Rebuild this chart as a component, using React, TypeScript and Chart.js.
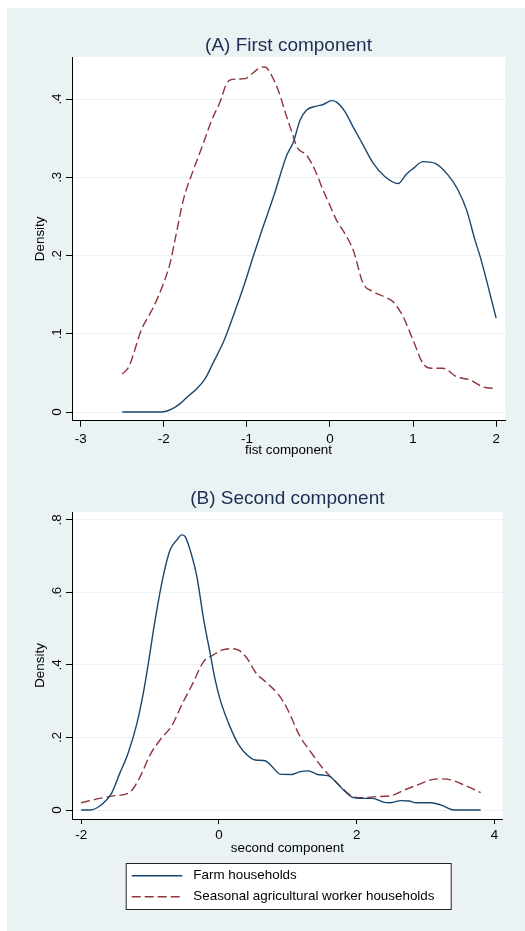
import React, { useEffect, useRef } from "react";
import { Chart, registerables } from "chart.js";

Chart.register(...registerables);

// ---------------- data ----------------
const seriesLabels = ["Farm households", "Seasonal agricultural worker households"];

// Panel A – first component
const farmA_x = [-2.5, -2.2, -2.03, -1.9, -1.8, -1.72, -1.6, -1.5, -1.4, -1.28, -1.15, -1.04, -0.92, -0.82, -0.68, -0.52, -0.44, -0.36, -0.28, -0.16, -0.08, 0.02, 0.08, 0.18, 0.28, 0.38, 0.52, 0.66, 0.82, 0.92, 1.0, 1.12, 1.26, 1.42, 1.54, 1.645, 1.745, 1.81, 1.905, 2.0];
const farmA_y = [0, 0, 0, 0.004, 0.011, 0.019, 0.03, 0.043, 0.064, 0.09, 0.127, 0.16, 0.2, 0.232, 0.275, 0.328, 0.345, 0.373, 0.386, 0.391, 0.393, 0.398, 0.396, 0.384, 0.364, 0.345, 0.318, 0.301, 0.292, 0.304, 0.311, 0.32, 0.318, 0.303, 0.284, 0.258, 0.22, 0.198, 0.16, 0.12];

const seasA_x = [-2.5, -2.42, -2.27, -2.125, -2.005, -1.925, -1.865, -1.765, -1.645, -1.525, -1.424, -1.324, -1.243, -1.183, -1.023, -0.942, -0.842, -0.782, -0.702, -0.622, -0.52, -0.44, -0.4, -0.28, -0.18, -0.08, 0.0, 0.08, 0.18, 0.28, 0.4, 0.52, 0.66, 0.76, 0.88, 1.0, 1.12, 1.22, 1.36, 1.525, 1.685, 1.845, 1.985];
const seasA_y = [0.0485, 0.058, 0.105, 0.134, 0.164, 0.19, 0.22, 0.271, 0.309, 0.343, 0.373, 0.396, 0.42, 0.425, 0.426, 0.432, 0.44, 0.441, 0.43, 0.411, 0.377, 0.352, 0.339, 0.328, 0.309, 0.283, 0.264, 0.245, 0.228, 0.207, 0.164, 0.154, 0.147, 0.141, 0.122, 0.092, 0.062, 0.056, 0.056, 0.045, 0.041, 0.032, 0.03];

// Panel B – second component
const farmB_x = [-2.0, -1.87, -1.73, -1.56, -1.44, -1.32, -1.19, -1.1, -1.02, -0.95, -0.88, -0.81, -0.71, -0.61, -0.54, -0.49, -0.39, -0.32, -0.22, -0.127, -0.054, 0.02, 0.16, 0.29, 0.41, 0.53, 0.67, 0.77, 0.89, 1.06, 1.18, 1.3, 1.43, 1.595, 1.67, 1.81, 1.94, 2.06, 2.23, 2.4, 2.49, 2.64, 2.76, 2.86, 3.08, 3.22, 3.41, 3.8];
const farmB_y = [0, 0, 0.011, 0.046, 0.101, 0.156, 0.239, 0.32, 0.41, 0.497, 0.575, 0.644, 0.717, 0.745, 0.759, 0.754, 0.699, 0.644, 0.524, 0.432, 0.359, 0.303, 0.23, 0.179, 0.152, 0.138, 0.136, 0.12, 0.099, 0.098, 0.106, 0.108, 0.098, 0.094, 0.083, 0.055, 0.035, 0.032, 0.032, 0.021, 0.02, 0.026, 0.025, 0.02, 0.02, 0.014, 0, 0];

const seasB_x = [-2.0, -1.73, -1.53, -1.32, -1.24, -1.12, -1.0, -0.855, -0.68, -0.54, -0.39, -0.22, -0.08, 0.04, 0.165, 0.285, 0.41, 0.53, 0.7, 0.87, 0.99, 1.18, 1.33, 1.47, 1.62, 1.77, 1.91, 2.06, 2.3, 2.49, 2.69, 2.88, 3.08, 3.22, 3.37, 3.56, 3.8];
const seasB_y = [0.02, 0.032, 0.039, 0.046, 0.06, 0.101, 0.152, 0.193, 0.234, 0.29, 0.345, 0.41, 0.428, 0.441, 0.445, 0.441, 0.418, 0.38, 0.35, 0.317, 0.28, 0.202, 0.161, 0.124, 0.092, 0.064, 0.041, 0.034, 0.037, 0.039, 0.055, 0.069, 0.083, 0.086, 0.083, 0.069, 0.048];

// ticks
const xTicksA = [-3, -2, -1, 0, 1, 2];
const yTicksA = [0, 0.1, 0.2, 0.3, 0.4];
const yTickLabelsA = ["0", ".1", ".2", ".3", ".4"];
const xTicksB = [-2, 0, 2, 4];
const yTicksB = [0, 0.2, 0.4, 0.6, 0.8];
const yTickLabelsB = ["0", ".2", ".4", ".6", ".8"];

// ---------------- styles ----------------
const FONT = '"Liberation Sans", Arial, Helvetica, sans-serif';
const NAVY = "#1a476f";
const MAROON = "#90353b";
const BG = "#eaf2f3";
const TITLE_COLOR = "#1e2d53";
const SMALL = 13.4;

const pts = (xs: number[], ys: number[]) => xs.map((x, i) => ({ x, y: ys[i] }));

const plotBg = {
  id: "plotBg",
  beforeDraw(chart: any) {
    const { ctx, chartArea: a } = chart;
    ctx.save();
    ctx.fillStyle = "#ffffff";
    ctx.fillRect(a.left, a.top, a.right - a.left, a.bottom - a.top);
    ctx.restore();
  },
};

const rotY = {
  id: "rotY",
  afterDraw(chart: any, _args: any, opts: any) {
    const s = chart.scales.y;
    const ctx = chart.ctx;
    ctx.save();
    ctx.font = `${SMALL}px ${FONT}`;
    ctx.fillStyle = "#000";
    ctx.textAlign = "center";
    ctx.textBaseline = "middle";
    s.ticks.forEach((t: any) => {
      const idx = opts.values.indexOf(t.value);
      const py = s.getPixelForValue(t.value);
      ctx.save();
      ctx.translate(chart.chartArea.left - opts.offset, py);
      ctx.rotate(-Math.PI / 2);
      ctx.fillText(opts.labels[idx], 0, 0);
      ctx.restore();
    });
    ctx.restore();
  },
};

const boxLegend = {
  id: "boxLegend",
  afterDraw(chart: any, _args: any, o: any) {
    if (!o || !o.show) return;
    const ctx = chart.ctx;
    ctx.save();
    ctx.fillStyle = "#ffffff";
    ctx.fillRect(o.left, o.top, o.width, o.height);
    ctx.strokeStyle = "#222";
    ctx.lineWidth = 1;
    ctx.strokeRect(o.left + 0.5, o.top + 0.5, o.width - 1, o.height - 1);
    ctx.font = `${SMALL}px ${FONT}`;
    ctx.textBaseline = "middle";
    ctx.textAlign = "left";
    chart.data.datasets.forEach((ds: any, i: number) => {
      const y = o.top + o.rowStart + i * o.rowGap;
      ctx.strokeStyle = ds.borderColor;
      ctx.lineWidth = ds.borderWidth;
      ctx.setLineDash(ds.borderDash || []);
      ctx.beginPath();
      ctx.moveTo(o.left + o.lineStart, y);
      ctx.lineTo(o.left + o.lineStart + o.lineLen, y);
      ctx.stroke();
      ctx.setLineDash([]);
      ctx.fillStyle = "#000";
      ctx.fillText(ds.label, o.left + o.textStart, y);
    });
    ctx.restore();
  },
};

function makeConfig(p: any) {
  const font = { family: FONT, size: SMALL };
  return {
    type: "line",
    data: {
      datasets: [
        {
          label: seriesLabels[0],
          data: pts(p.farmX, p.farmY),
          borderColor: NAVY,
          borderWidth: 1.4,
          pointRadius: 0,
          fill: false,
          cubicInterpolationMode: "monotone",
        },
        {
          label: seriesLabels[1],
          data: pts(p.seasX, p.seasY),
          borderColor: MAROON,
          borderWidth: 1.4,
          borderDash: [9, 4],
          pointRadius: 0,
          fill: false,
          cubicInterpolationMode: "monotone",
        },
      ],
    },
    options: {
      animation: false,
      responsive: false,
      devicePixelRatio: 1,
      events: [],
      layout: { padding: { left: 0, right: p.padRight, top: 0, bottom: p.padBottom } },
      plugins: {
        legend: { display: false },
        tooltip: { enabled: false },
        title: {
          display: true,
          text: p.title,
          fullSize: false,
          color: TITLE_COLOR,
          font: { family: FONT, size: 19, weight: "normal" },
          padding: { top: p.titleTop, bottom: p.titleBottom },
        },
        rotY: { values: p.yTicks, labels: p.yLabels, offset: 14.5 },
        boxLegend: p.legend,
      },
      scales: {
        x: {
          type: "linear",
          min: p.xMin,
          max: p.xMax,
          afterBuildTicks: (s: any) => {
            s.ticks = p.xTicks.map((v: number) => ({ value: v }));
          },
          afterFit: (s: any) => {
            s.height = 40;
          },
          grid: { drawOnChartArea: false, drawTicks: true, tickLength: p.tickLen, tickColor: "#000", tickWidth: 1 },
          border: { color: "#000", width: 1 },
          ticks: {
            color: "#000",
            font,
            padding: p.xTickPad,
            maxRotation: 0,
            autoSkip: false,
            callback: (v: any) => String(v),
          },
          title: {
            display: true,
            text: p.xTitle,
            color: "#000",
            font,
            padding: { top: 0, bottom: p.xTitleBottom },
          },
        },
        y: {
          type: "linear",
          min: p.yMin,
          max: p.yMax,
          afterBuildTicks: (s: any) => {
            s.ticks = p.yTicks.map((v: number) => ({ value: v }));
          },
          afterFit: (s: any) => {
            s.width = 65;
          },
          grid: { color: BG, lineWidth: 1, drawTicks: true, tickLength: 6, tickColor: "#000", tickWidth: 1 },
          border: { color: "#000", width: 1 },
          ticks: { display: false },
          title: {
            display: true,
            text: "Density",
            color: "#000",
            font,
            padding: { top: 25.7, bottom: 0 },
          },
        },
      },
    },
    plugins: [plotBg, rotY, boxLegend],
  } as any;
}

export default function App() {
  const refA = useRef<HTMLCanvasElement>(null);
  const refB = useRef<HTMLCanvasElement>(null);

  useEffect(() => {
    const a = new Chart(
      refA.current as HTMLCanvasElement,
      makeConfig({
        title: "(A) First component",
        xTitle: "fist component",
        farmX: farmA_x,
        farmY: farmA_y,
        seasX: seasA_x,
        seasY: seasA_y,
        xMin: -3.105,
        xMax: 2.107,
        yMin: -0.0111,
        yMax: 0.4537,
        xTicks: xTicksA,
        yTicks: yTicksA,
        yLabels: yTickLabelsA,
        padRight: 20,
        padBottom: 9.3,
        titleTop: 26.1,
        titleBottom: 0.1,
        tickLen: 6,
        xTickPad: 5,
        xTitleBottom: 1.96,
        legend: { show: false },
      })
    );
    const b = new Chart(
      refB.current as HTMLCanvasElement,
      makeConfig({
        title: "(B) Second component",
        xTitle: "second component",
        farmX: farmB_x,
        farmY: farmB_y,
        seasX: seasB_x,
        seasY: seasB_y,
        xMin: -2.133,
        xMax: 4.12,
        yMin: -0.0248,
        yMax: 0.822,
        xTicks: xTicksB,
        yTicks: yTicksB,
        yLabels: yTickLabelsB,
        padRight: 22.3,
        padBottom: 72,
        titleTop: 17.6,
        titleBottom: 1.6,
        tickLen: 5,
        xTickPad: 3,
        xTitleBottom: 2.46,
        legend: {
          show: true,
          left: 118.7,
          top: 393,
          width: 326,
          height: 47,
          rowStart: 12.7,
          rowGap: 21,
          lineStart: 6,
          lineLen: 50.6,
          textStart: 67.6,
        },
      })
    );
    return () => {
      a.destroy();
      b.destroy();
    };
  }, []);

  return (
    <div style={{ position: "absolute", left: 7, top: 8, width: 518, height: 923, background: BG, overflow: "hidden" }}>
      <canvas ref={refA} width={518} height={462} style={{ position: "absolute", left: 0, top: 0, width: 518, height: 462, display: "block" }} />
      <canvas ref={refB} width={518} height={461} style={{ position: "absolute", left: 0, top: 462, width: 518, height: 461, display: "block" }} />
    </div>
  );
}
